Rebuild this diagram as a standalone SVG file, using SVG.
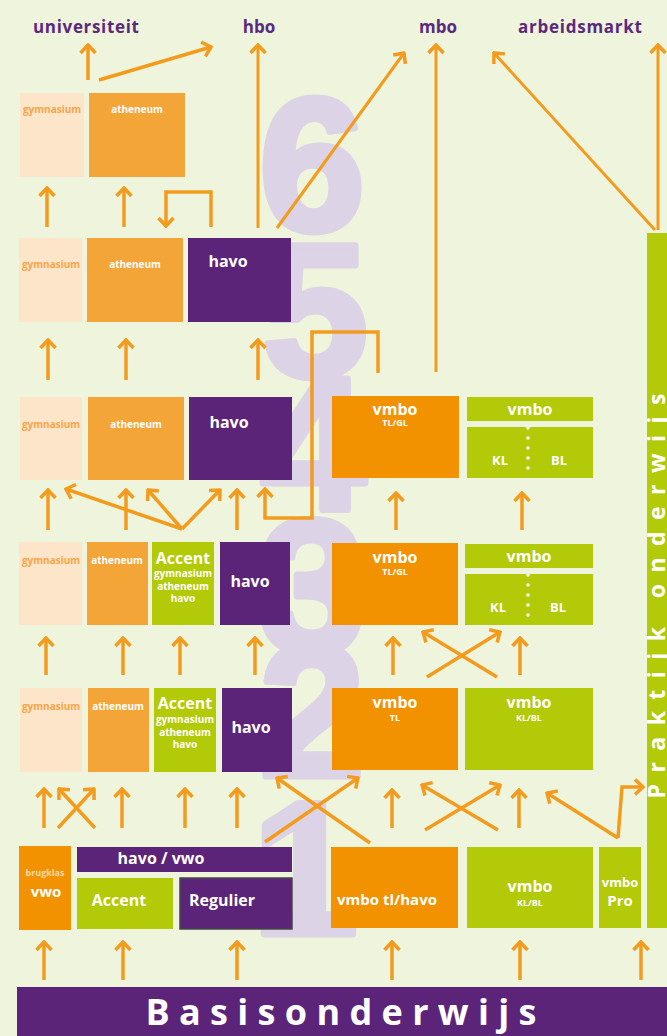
<svg xmlns="http://www.w3.org/2000/svg" width="667" height="1036" viewBox="0 0 667 1036">
<style>
.bg{fill:#eff4dc}
.dig{font-family:'Liberation Sans',Arial,sans-serif;font-weight:700;font-size:190px;fill:#ddd3e6;stroke:#ddd3e6;stroke-width:7;stroke-linejoin:round;text-anchor:middle}
.gym{fill:#fde5c9}
.ath{fill:#f4a537}
.pur{fill:#5b2479}
.org{fill:#f39200}
.grn{fill:#b3ca08}
.t{font-family:'Open Sans','Liberation Sans',sans-serif;font-weight:700;fill:#fff;text-anchor:middle}
.top{font-family:'Open Sans','Liberation Sans',sans-serif;font-weight:700;font-size:17px;fill:#5b2a7d;text-anchor:middle}
.s16{font-size:16px}
.s15{font-size:15px}
.s13{font-size:13px}
.s10{font-size:10px}
.s9{font-size:9px}
.go{fill:#f5a54a}
.br{fill:#fcd9a8}
.ln{fill:none;stroke:#f39b1c;stroke-width:3.5;marker-end:url(#ah)}
.thin{stroke-width:3}
.dots{stroke:#fff;stroke-width:3.5;stroke-linecap:round;stroke-dasharray:0 10}
</style>
<defs>
<marker id="ah" viewBox="-12 -10 14 20" refX="0" refY="0" markerWidth="14" markerHeight="20" markerUnits="userSpaceOnUse" orient="auto">
<path d="M-8,-7.5 L0,0 L-8,7.5" fill="none" stroke="#f39b1c" stroke-width="3.5"/>
</marker>
</defs>
<rect class="bg" x="0" y="0" width="667" height="1036"/>
<g id="years">
<text class="dig" x="312" y="230">6</text>
<text class="dig" x="315" y="376">5</text>
<text class="dig" x="313" y="510">4</text>
<text class="dig" x="312" y="652">3</text>
<text class="dig" x="312" y="776">2</text>
<text class="dig" x="305" y="934">1</text>
</g>
<g id="outflow-labels">
<text class="top" x="86" y="33" textLength="106" lengthAdjust="spacing">universiteit</text>
<text class="top" x="259" y="33">hbo</text>
<text class="top" x="438" y="33">mbo</text>
<text class="top" x="580" y="33" textLength="124" lengthAdjust="spacing">arbeidsmarkt</text>
</g>
<g id="gymnasium-6"><rect class="gym" x="20" y="93" width="64" height="84"/><text class="t s10 go" x="52" y="113">gymnasium</text></g>
<g id="atheneum-6"><rect class="ath" x="89" y="93" width="96" height="84"/><text class="t s10" x="137" y="113">atheneum</text></g>
<g id="gymnasium-5"><rect class="gym" x="19" y="238" width="63" height="84"/><text class="t s10 go" x="51" y="268">gymnasium</text></g>
<g id="atheneum-5"><rect class="ath" x="87" y="238" width="96" height="84"/><text class="t s10" x="135" y="268">atheneum</text></g>
<g id="havo-5"><rect class="pur" x="188" y="238" width="103" height="84"/><text class="t s16" x="228" y="267">havo</text></g>
<g id="gymnasium-4"><rect class="gym" x="20" y="397" width="62" height="83"/><text class="t s10 go" x="51" y="428">gymnasium</text></g>
<g id="atheneum-4"><rect class="ath" x="88" y="397" width="96" height="83"/><text class="t s10" x="136" y="428">atheneum</text></g>
<g id="havo-4"><rect class="pur" x="189" y="397" width="103" height="83"/><text class="t s16" x="229" y="428">havo</text></g>
<g id="vmbo-tlgl-4"><rect class="org" x="332" y="396" width="127" height="82"/><text class="t s16" x="395" y="415">vmbo</text><text class="t s9" x="395" y="426">TL/GL</text></g>
<g id="vmbo-klbl-4"><rect class="grn" x="467" y="397" width="126" height="24"/><text class="t s16" x="530" y="415">vmbo</text><rect class="grn" x="467" y="427" width="126" height="51"/><line class="dots" x1="528" y1="428" x2="528" y2="478"/><text class="t s13" x="500" y="465">KL</text><text class="t s13" x="559" y="465">BL</text></g>
<g id="gymnasium-3"><rect class="gym" x="19" y="542" width="63" height="83"/><text class="t s10 go" x="51" y="564">gymnasium</text></g>
<g id="atheneum-3"><rect class="ath" x="87" y="542" width="61" height="83"/><text class="t s10" x="117" y="564">atheneum</text></g>
<g id="accent-3"><rect class="grn" x="152" y="542" width="62" height="83"/><text class="t s16" x="183" y="564">Accent</text><text class="t s10" x="183" y="577">gymnasium</text><text class="t s10" x="183" y="590">atheneum</text><text class="t s10" x="183" y="602">havo</text></g>
<g id="havo-3"><rect class="pur" x="220" y="542" width="70" height="83"/><text class="t s16" x="250" y="587">havo</text></g>
<g id="vmbo-tlgl-3"><rect class="org" x="332" y="543" width="126" height="82"/><text class="t s16" x="395" y="563">vmbo</text><text class="t s9" x="395" y="575">TL/GL</text></g>
<g id="vmbo-klbl-3"><rect class="grn" x="465" y="544" width="128" height="24"/><text class="t s16" x="529" y="562">vmbo</text><rect class="grn" x="465" y="574" width="128" height="51"/><line class="dots" x1="528" y1="575" x2="528" y2="625"/><text class="t s13" x="498" y="612">KL</text><text class="t s13" x="558" y="612">BL</text></g>
<g id="gymnasium-2"><rect class="gym" x="20" y="688" width="62" height="84"/><text class="t s10 go" x="51" y="710">gymnasium</text></g>
<g id="atheneum-2"><rect class="ath" x="88" y="688" width="61" height="84"/><text class="t s10" x="118" y="710">atheneum</text></g>
<g id="accent-2"><rect class="grn" x="154" y="688" width="62" height="84"/><text class="t s16" x="185" y="709">Accent</text><text class="t s10" x="185" y="723">gymnasium</text><text class="t s10" x="185" y="736">atheneum</text><text class="t s10" x="185" y="748">havo</text></g>
<g id="havo-2"><rect class="pur" x="222" y="688" width="70" height="84"/><text class="t s16" x="251" y="733">havo</text></g>
<g id="vmbo-tl-2"><rect class="org" x="332" y="688" width="126" height="82"/><text class="t s16" x="395" y="708">vmbo</text><text class="t s9" x="395" y="721">TL</text></g>
<g id="vmbo-klbl-2"><rect class="grn" x="465" y="688" width="128" height="82"/><text class="t s16" x="529" y="708">vmbo</text><text class="t s9" x="529" y="721">KL/BL</text></g>
<g id="brugklas-vwo"><rect class="org" x="19" y="846" width="52" height="84"/><text class="t s9 br" x="45" y="876">brugklas</text><text class="t s15" x="46" y="897">vwo</text></g>
<g id="havo-vwo"><rect class="pur" x="77" y="847" width="215" height="25"/><text class="t s16" x="161" y="864">havo / vwo</text></g>
<g id="accent-1"><rect class="grn" x="77" y="878" width="96" height="51"/><text class="t s16" x="119" y="906">Accent</text></g>
<g id="regulier-1"><rect class="pur" x="180" y="878" width="112" height="51" stroke="#454545" stroke-width="1.5"/><text class="t s16" x="222" y="906">Regulier</text></g>
<g id="vmbo-tlhavo-1"><rect class="org" x="331" y="847" width="127" height="81"/><text class="t s15" x="387" y="905">vmbo tl/havo</text></g>
<g id="vmbo-klbl-1"><rect class="grn" x="467" y="847" width="126" height="81"/><text class="t s16" x="530" y="892">vmbo</text><text class="t s9" x="530" y="906">KL/BL</text></g>
<g id="vmbo-pro"><rect class="grn" x="599" y="847" width="42" height="81"/><text class="t s13" x="620" y="887">vmbo</text><text class="t s15" x="620" y="906">Pro</text></g>
<g id="praktijkonderwijs"><rect class="grn" x="647" y="233" width="25" height="695"/><text class="t" font-size="23" transform="translate(665,596) rotate(-90)" textLength="405" lengthAdjust="spacing">Praktijk onderwijs</text></g>
<g id="basisonderwijs"><rect class="pur" x="17" y="987" width="655" height="55"/><text class="t" font-size="36" x="341" y="1025" textLength="391" lengthAdjust="spacing">Basisonderwijs</text></g>
<g id="connectors">
<path class="ln" d="M88,80 V45"/>
<path class="ln" d="M99,80 L211,47"/>
<path class="ln thin" d="M258,228 V45"/>
<path class="ln thin" d="M277,228 L404,53"/>
<path class="ln thin" d="M436,372 V45"/>
<path class="ln thin" d="M655,230 L494,53"/>
<path class="ln thin" d="M658,230 V45"/>
<path class="ln" d="M47,227 V188"/>
<path class="ln" d="M124,227 V188"/>
<path class="ln" d="M211,227 V192 H166 V226"/>
<path class="ln" d="M48,380 V340"/>
<path class="ln" d="M126,380 V340"/>
<path class="ln" d="M258,380 V340"/>
<path class="ln" d="M48,530 V490"/>
<path class="ln" d="M126,530 V490"/>
<path class="ln" d="M237,530 V490"/>
<path class="ln" d="M182,529 L66,489"/>
<path class="ln" d="M182,529 L148,490"/>
<path class="ln" d="M182,529 L220,490"/>
<path class="ln" d="M378,373 V332 H312 V518 H265 V489"/>
<path class="ln" d="M396,530 V493"/>
<path class="ln" d="M522,530 V493"/>
<path class="ln" d="M46,675 V638"/>
<path class="ln" d="M123,675 V638"/>
<path class="ln" d="M180,675 V638"/>
<path class="ln" d="M255,675 V638"/>
<path class="ln" d="M393,675 V638"/>
<path class="ln" d="M520,675 V638"/>
<path class="ln" d="M427,677 L500,632"/>
<path class="ln" d="M497,677 L423,632"/>
<path class="ln" d="M44,828 V789"/>
<path class="ln" d="M58,828 L94,789"/>
<path class="ln" d="M95,828 L59,789"/>
<path class="ln" d="M122,828 V789"/>
<path class="ln" d="M185,828 V789"/>
<path class="ln" d="M237,828 V789"/>
<path class="ln" d="M265,842 L358,778"/>
<path class="ln" d="M370,843 L277,778"/>
<path class="ln" d="M392,828 V790"/>
<path class="ln" d="M519,828 V790"/>
<path class="ln" d="M425,830 L500,785"/>
<path class="ln" d="M498,830 L422,785"/>
<path class="ln" d="M618,838 L547,793"/>
<path class="ln" d="M618,838 L622,787 H643"/>
<path class="ln" d="M44,980 V942"/>
<path class="ln" d="M123,980 V942"/>
<path class="ln" d="M237,980 V942"/>
<path class="ln" d="M392,980 V942"/>
<path class="ln" d="M520,980 V942"/>
<path class="ln" d="M641,980 V942"/>
</g>
</svg>
